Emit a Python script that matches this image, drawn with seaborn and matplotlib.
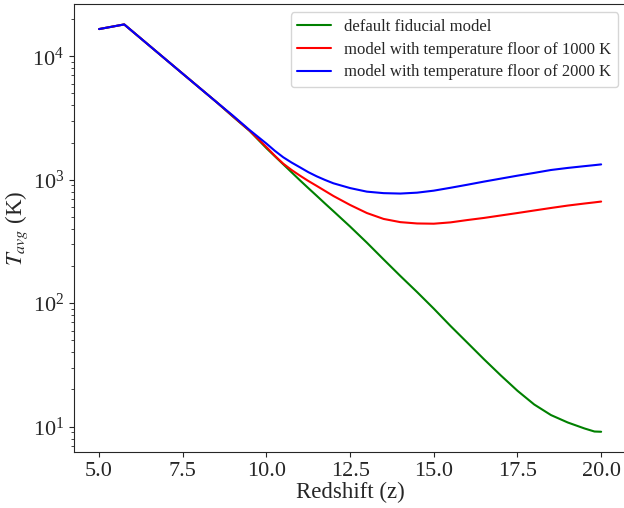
import numpy as np
import pandas as pd
import seaborn as sns
import matplotlib.pyplot as plt
from matplotlib.ticker import MultipleLocator, FormatStrFormatter

# Redshift grid
redshift = [5.0, 5.75, 6.5, 7.5, 8.5, 9.0, 9.5, 10.0, 10.25, 10.5, 10.75,
            11.0, 11.25, 11.5, 11.75, 12.0, 12.5, 13.0, 13.5, 14.0, 14.5,
            15.0, 15.5, 16.0, 16.5, 17.0, 17.5, 18.0, 18.5, 19.0, 19.5,
            19.8, 20.0]

# Average temperature (K) for each model
t_fiducial = [16600, 18100, 12200, 7210, 4270, 3240, 2480, 1799, 1549, 1334,
              1148, 989, 855, 741, 641, 556, 417, 309, 226, 166, 123, 90.2,
              65.3, 47.9, 35.1, 26.0, 19.5, 15.1, 12.4, 10.8, 9.66, 9.12, 9.08]
t_floor_1000 = [16600, 18100, 12200, 7210, 4270, 3260, 2490, 1837, 1563, 1349,
                1199, 1079, 977, 891, 811, 738, 624, 537, 481, 453, 442, 440,
                451, 471, 490, 513, 537, 563, 590, 617, 641, 655, 665]
t_floor_2000 = [16600, 18100, 12200, 7210, 4270, 3300, 2520, 1960, 1714, 1520,
                1377, 1260, 1151, 1065, 995, 935, 855, 800, 778, 772, 785, 815,
                860, 910, 965, 1020, 1078, 1135, 1198, 1245, 1287, 1312, 1330]

labels = ['default fiducial model',
          'model with temperature floor of 1000 K',
          'model with temperature floor of 2000 K']
colors = ['green', 'red', 'blue']

df = pd.DataFrame({'z': redshift, labels[0]: t_fiducial,
                   labels[1]: t_floor_1000, labels[2]: t_floor_2000})

sns.set_style('ticks')
plt.rcParams['font.family'] = ['Liberation Serif', 'DejaVu Serif']
plt.rcParams['mathtext.fontset'] = 'stix'

fig = plt.figure(figsize=(6.24, 5.08), dpi=100)
ax = fig.add_axes([0.1186, 0.110, 0.885, 0.882])

for lab, col in zip(labels, colors):
    sns.lineplot(data=df, x='z', y=lab, color=col, label=lab, ax=ax,
                 linewidth=1.5)

ax.set_yscale('log')
ax.xaxis.set_major_locator(MultipleLocator(2.5))
ax.xaxis.set_major_formatter(FormatStrFormatter('%.1f'))
ax.set_xlabel('Redshift (z)', fontsize=16.5, labelpad=1)
ax.set_ylabel(r'$T_{avg}$ (K)', fontsize=16.5, labelpad=2)
ax.tick_params(axis='both', which='major', labelsize=16)
ax.legend(loc='upper right', fontsize=12, labelspacing=0.4)

fig.savefig('out.png', dpi=100)
